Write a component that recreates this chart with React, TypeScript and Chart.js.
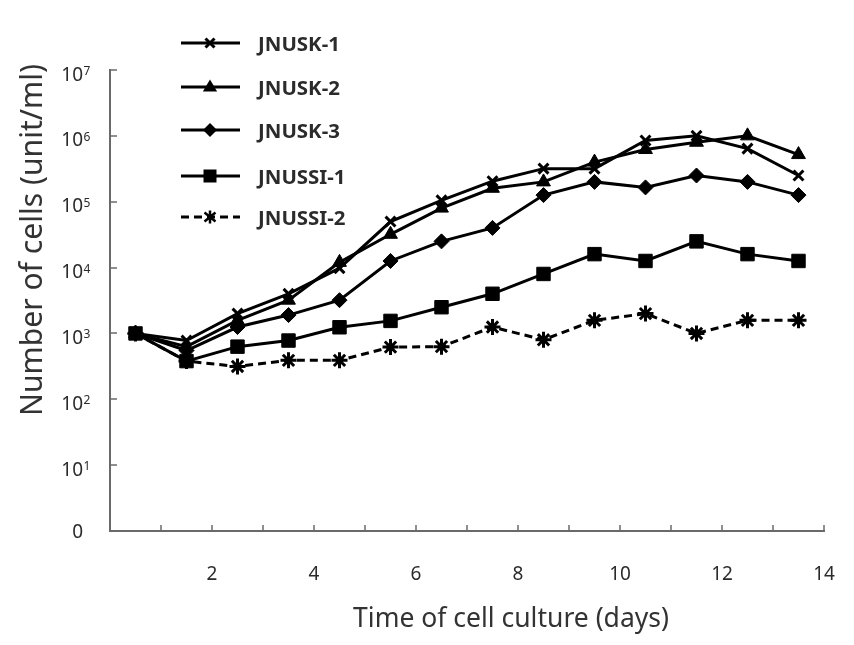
import React, { useEffect, useRef } from 'react';
import { Chart, registerables } from 'chart.js';

Chart.register(...registerables);

// ---- data ----
const days = [0.5, 1.5, 2.5, 3.5, 4.5, 5.5, 6.5, 7.5, 8.5, 9.5, 10.5, 11.5, 12.5, 13.5];
const seriesNames = ['JNUSK-1', 'JNUSK-2', 'JNUSK-3', 'JNUSSI-1', 'JNUSSI-2'];
const jnusk1 = [1000, 780, 2000, 4000, 9800, 50000, 105000, 205000, 318000, 318000, 850000, 1000000, 640000, 250000];
const jnusk2 = [1000, 630, 1580, 3200, 12000, 32000, 80000, 160000, 200000, 400000, 620000, 800000, 1000000, 520000];
const jnusk3 = [1000, 550, 1250, 1900, 3200, 12600, 25000, 40000, 126000, 200000, 165000, 250000, 200000, 126000];
const jnussi1 = [1000, 380, 630, 780, 1240, 1550, 2500, 4000, 8000, 16000, 12600, 25000, 16000, 12600];
const jnussi2 = [1000, 380, 315, 390, 390, 620, 630, 1250, 800, 1580, 2000, 1000, 1580, 1580];
const xTickValues = [2, 4, 6, 8, 10, 12, 14];
const xTickMarks = [1, 2, 3, 4, 5, 6, 7, 8, 9, 10, 11, 12, 13, 14];
const yTickValues = [1, 10, 100, 1000, 10000, 100000, 1000000, 10000000];
const yTickExponents = ['', '1', '2', '3', '4', '5', '6', '7'];
const xTitle = 'Time of cell culture (days)';
const yTitle = 'Number of cells (unit/ml)';

const seriesValues = [jnusk1, jnusk2, jnusk3, jnussi1, jnussi2];
const seriesMarkers = ['crossRot', 'triangle', 'rectRot', 'rect', 'star'];

// ---- styles ----
const AXIS_COLOR = '#6a6a6a';
const TEXT_COLOR = '#2b2b2b';
const FONT = '"Noto Sans", "Open Sans", sans-serif';
const W = 854;
const H = 645;

function drawMarker(ctx: CanvasRenderingContext2D, style: string, x: number, y: number) {
  ctx.save();
  ctx.fillStyle = '#000';
  ctx.strokeStyle = '#000';
  ctx.setLineDash([]);
  ctx.beginPath();
  if (style === 'crossRot') {
    const o = 4.5;
    ctx.lineWidth = 3;
    ctx.moveTo(x - o, y - o); ctx.lineTo(x + o, y + o);
    ctx.moveTo(x - o, y + o); ctx.lineTo(x + o, y - o);
    ctx.stroke();
  } else if (style === 'triangle') {
    const r = 7.5;
    ctx.moveTo(x, y - r);
    ctx.lineTo(x + r * 0.95, y + r * 0.6);
    ctx.lineTo(x - r * 0.95, y + r * 0.6);
    ctx.closePath();
    ctx.fill();
  } else if (style === 'rectRot') {
    const r = 7;
    ctx.moveTo(x, y - r); ctx.lineTo(x + r, y); ctx.lineTo(x, y + r); ctx.lineTo(x - r, y);
    ctx.closePath();
    ctx.fill();
  } else if (style === 'rect') {
    const s = 6.5;
    ctx.rect(x - s, y - s, 2 * s, 2 * s);
    ctx.fill();
  } else if (style === 'star') {
    const o = 5.5;
    ctx.lineWidth = 2.5;
    ctx.moveTo(x - o, y - o * 0.8); ctx.lineTo(x + o, y + o * 0.8);
    ctx.moveTo(x - o, y + o * 0.8); ctx.lineTo(x + o, y - o * 0.8);
    ctx.moveTo(x, y - o * 1.2); ctx.lineTo(x, y + o * 1.2);
    ctx.stroke();
  }
  ctx.restore();
}

const decorPlugin = {
  id: 'decor',
  afterDraw(chart: any) {
    const ctx: CanvasRenderingContext2D = chart.ctx;
    const xs = chart.scales.x;
    const ys = chart.scales.y;
    const ca = chart.chartArea;
    ctx.save();

    // inward tick marks
    ctx.strokeStyle = AXIS_COLOR;
    ctx.lineWidth = 1.5;
    ctx.setLineDash([]);
    for (const d of xTickMarks) {
      const px = Math.round(xs.getPixelForValue(d));
      ctx.beginPath();
      ctx.moveTo(px, ca.bottom);
      ctx.lineTo(px, ca.bottom - 6);
      ctx.stroke();
    }
    for (let i = 1; i < yTickValues.length; i++) {
      const py = Math.round(ys.getPixelForValue(yTickValues[i]));
      ctx.beginPath();
      ctx.moveTo(ca.left, py);
      ctx.lineTo(ca.left + 7, py);
      ctx.stroke();
    }

    // x tick labels
    ctx.fillStyle = TEXT_COLOR;
    ctx.font = `19px ${FONT}`;
    ctx.textAlign = 'center';
    ctx.textBaseline = 'middle';
    for (const v of xTickValues) {
      ctx.fillText(String(v), xs.getPixelForValue(v), 575);
    }

    // y tick labels with superscripts
    const labelRight = 83;
    for (let i = 0; i < yTickValues.length; i++) {
      const py = ys.getPixelForValue(yTickValues[i]);
      const exp = yTickExponents[i];
      ctx.textBaseline = 'alphabetic';
      if (!exp) {
        ctx.font = `19px ${FONT}`;
        ctx.textAlign = 'right';
        ctx.fillText('0', labelRight, py + 7);
      } else {
        ctx.font = `19px ${FONT}`;
        ctx.textAlign = 'right';
        ctx.fillText('10', labelRight, py + 10.5);
        ctx.font = `12px ${FONT}`;
        ctx.textAlign = 'left';
        ctx.fillText(exp, labelRight + 0.5, py + 5);
      }
    }

    // axis titles (fit to width)
    ctx.fillStyle = '#333';
    ctx.textAlign = 'center';
    ctx.textBaseline = 'middle';
    ctx.font = `22px ${FONT}`;
    let w = ctx.measureText(xTitle).width;
    let fs = (22 * 316) / w;
    ctx.font = `${fs.toFixed(2)}px ${FONT}`;
    ctx.fillText(xTitle, 511, 619);

    ctx.font = `22px ${FONT}`;
    w = ctx.measureText(yTitle).width;
    fs = (22 * 352) / w;
    ctx.save();
    ctx.translate(33, 240);
    ctx.rotate(-Math.PI / 2);
    ctx.font = `${fs.toFixed(2)}px ${FONT}`;
    ctx.fillText(yTitle, 0, 0);
    ctx.restore();

    // legend
    ctx.font = `bold 20px ${FONT}`;
    w = ctx.measureText(seriesNames[0]).width;
    const lfs = (20 * 82) / w;
    const rows = [43, 87, 130, 176, 217];
    for (let i = 0; i < seriesNames.length; i++) {
      const y = rows[i];
      ctx.save();
      ctx.strokeStyle = '#000';
      ctx.lineWidth = 3;
      ctx.setLineDash(i === 4 ? [8, 5] : []);
      ctx.beginPath();
      ctx.moveTo(181, y);
      ctx.lineTo(240, y);
      ctx.stroke();
      ctx.restore();
      drawMarker(ctx, seriesMarkers[i], 210, y);
      ctx.fillStyle = TEXT_COLOR;
      ctx.font = `bold ${lfs.toFixed(2)}px ${FONT}`;
      ctx.textAlign = 'left';
      ctx.textBaseline = 'middle';
      ctx.fillText(seriesNames[i], 258, y + 2);
    }
    ctx.restore();
  },
};

export default function App() {
  const ref = useRef<HTMLCanvasElement | null>(null);

  useEffect(() => {
    if (!ref.current) return;
    const datasets = seriesNames.map((name, i) => ({
      label: name,
      data: days.map((d, j) => ({ x: d, y: seriesValues[i][j] })),
      borderColor: '#000',
      backgroundColor: '#000',
      borderWidth: 3,
      borderDash: i === 4 ? [8, 5] : [],
      pointStyle: seriesMarkers[i] as any,
      pointRadius: i === 0 ? 7 : i === 1 ? 8 : i === 2 ? 7.5 : i === 3 ? 9.5 : 8,
      pointBorderWidth: i === 0 || i === 4 ? 3 : 1,
      pointBackgroundColor: '#000',
      pointBorderColor: '#000',
      tension: 0,
    }));
    const chart = new Chart(ref.current, {
      type: 'line',
      data: { datasets },
      options: {
        responsive: false,
        animation: false,
        events: [],
        layout: { padding: { top: 70, right: 30, left: 0, bottom: 0 } },
        plugins: { legend: { display: false }, tooltip: { enabled: false }, title: { display: false } },
        scales: {
          x: {
            type: 'linear',
            min: 0,
            max: 14,
            grid: { display: false },
            border: { display: true, color: AXIS_COLOR, width: 2 },
            ticks: { display: false, stepSize: 1 },
            afterFit: (s: any) => { s.height = H - 531; },
          },
          y: {
            type: 'logarithmic',
            min: 1,
            max: 10000000,
            grid: { display: false },
            border: { display: true, color: AXIS_COLOR, width: 2 },
            ticks: { display: false },
            afterBuildTicks: (s: any) => { s.ticks = yTickValues.map((v) => ({ value: v })); },
            afterFit: (s: any) => { s.width = 110; },
          },
        },
      },
      plugins: [decorPlugin],
    });
    return () => chart.destroy();
  }, []);

  return (
    <div style={{ position: 'fixed', left: 0, top: 0, width: W, height: H, background: '#fff' }}>
      <canvas ref={ref} width={W} height={H} style={{ display: 'block', width: W, height: H }} />
    </div>
  );
}
